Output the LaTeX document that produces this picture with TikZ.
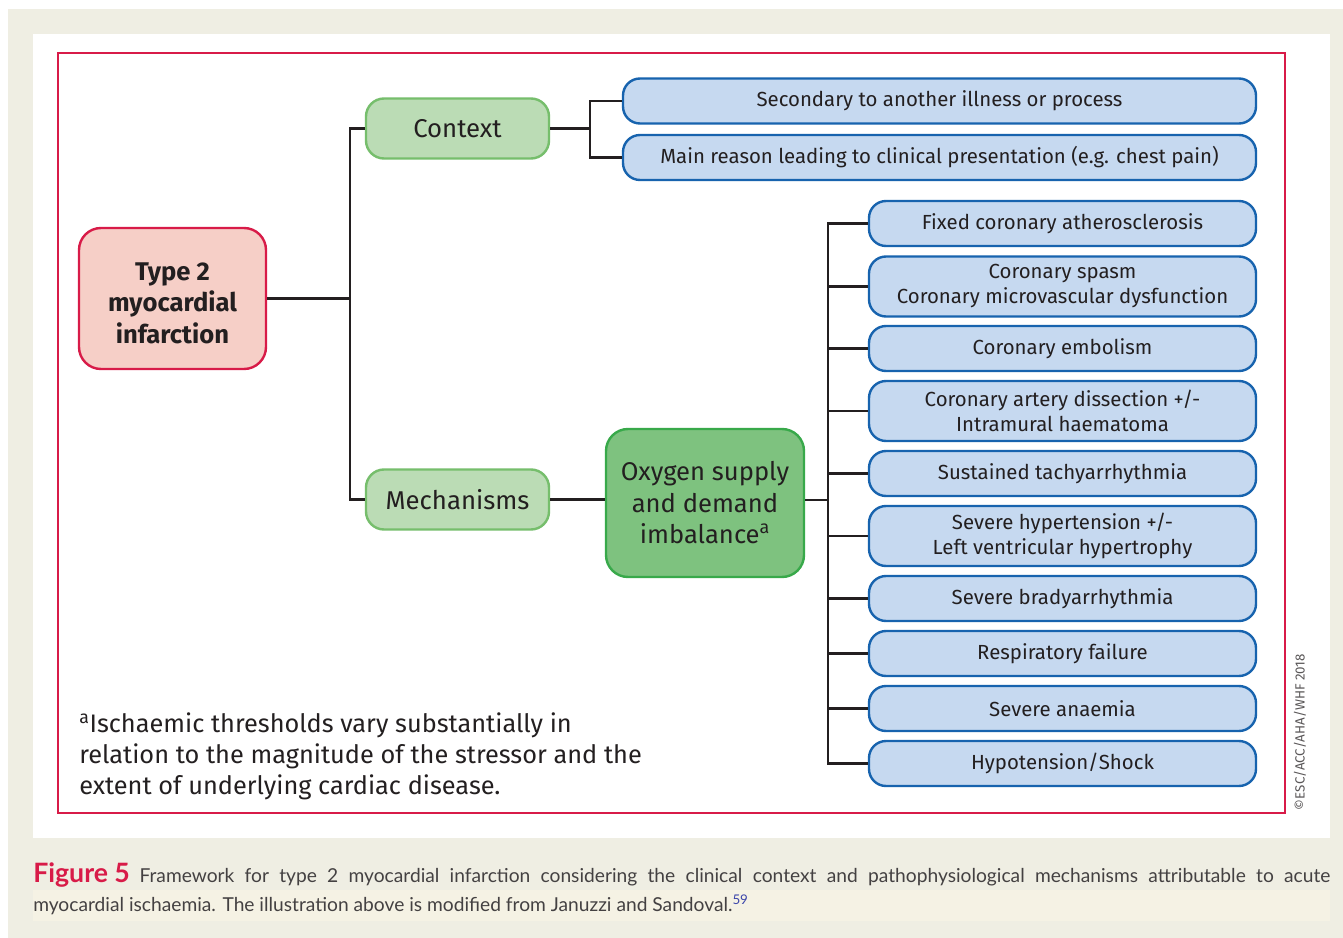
\documentclass[tikz,border=0pt]{standalone}
\usepackage{fontspec}
\setmainfont{Fira Sans}
\newfontfamily\capfont{Lato}
\usetikzlibrary{positioning}

\definecolor{pagebeige}{RGB}{239,238,227}
\definecolor{capcream}{RGB}{245,242,228}
\definecolor{framered}{RGB}{216,27,72}
\definecolor{typefill}{RGB}{246,207,199}
\definecolor{ctxfill}{RGB}{187,220,181}
\definecolor{ctxedge}{RGB}{118,190,108}
\definecolor{oxyfill}{RGB}{126,194,127}
\definecolor{oxyedge}{RGB}{56,169,74}
\definecolor{itemfill}{RGB}{198,217,240}
\definecolor{itemedge}{RGB}{23,99,174}
\definecolor{inkdark}{RGB}{35,31,32}
\definecolor{refblue}{RGB}{60,70,170}

\newlength\pxu
\setlength\pxu{0.75pt}

\begin{document}
\begin{tikzpicture}[x=0.75pt,y=0.75pt,yscale=-1,xscale=1,
  link/.style={draw=inkdark, line width=2.6\pxu},
  itembox/.style={draw=itemedge, fill=itemfill, line width=2.4\pxu, rounded corners=17\pxu,
    inner sep=0pt, align=center, text=inkdark, font=\fontsize{15.3}{18.75}\selectfont},
  headbox/.style={draw=ctxedge, fill=ctxfill, line width=2.4\pxu, rounded corners=18\pxu,
    minimum width=183\pxu, minimum height=60\pxu, inner sep=0pt, text=inkdark,
    font=\fontsize{19.3}{23}\selectfont}]
\useasboundingbox (0,0) rectangle (1343,938);

% page, panel and frame
\fill[pagebeige] (8,9) rectangle (1343,938);
\fill[white] (33,34) rectangle (1330,838);
\fill[capcream] (33,890) rectangle (1330,921);
\draw[framered, line width=2.6\pxu] (58,53) rectangle (1285,813);

% main boxes
\node[draw=framered, fill=typefill, line width=2.4\pxu, rounded corners=22\pxu,
  minimum width=187\pxu, minimum height=141\pxu, inner sep=0pt, align=center, text=inkdark,
  font=\fontsize{19.2}{23.6}\selectfont\bfseries] (t2) at (172.5,298.5)
  {\rule{0pt}{20pt}Type 2\\myocardial\\infarction};
\node[headbox] (ctx) at (457.5,128.5) {Context};
\node[headbox] (mech) at (457.5,499.5) {Mechanisms};
\node[draw=oxyedge, fill=oxyfill, line width=2.4\pxu, rounded corners=22\pxu,
  minimum width=198\pxu, minimum height=148\pxu, inner sep=0pt, align=center, text=inkdark,
  font=\fontsize{19.2}{23.6}\selectfont] (oxy) at (705,503)
  {Oxygen supply\\and demand\\imbalance\textsuperscript{a}};

% context items
\node[itembox, minimum width=633\pxu, minimum height=45\pxu] (c1) at (939.5,101)
  {Secondary to another illness or process};
\node[itembox, minimum width=633\pxu, minimum height=45\pxu] (c2) at (939.5,157.5)
  {Main reason leading to clinical presentation (e.g. chest pain)};

% mechanism items
\foreach \n/\y/\h/\txt in {
  1/223.5/45/{Fixed coronary atherosclerosis},
  2/286.5/60/{Coronary spasm\\Coronary microvascular dysfunction},
  3/348.5/45/{Coronary embolism},
  4/411/60/{Coronary artery dissection +/-\\Intramural haematoma},
  5/473.5/45/{Sustained tachyarrhythmia},
  6/536/60/{Severe hypertension +/-\\Left ventricular hypertrophy},
  7/598.5/45/{Severe bradyarrhythmia},
  8/653.5/45/{Respiratory failure},
  9/708.5/45/{Severe anaemia},
  10/763.5/45/{Hypotension/Shock}}
  \node[itembox, minimum width=387\pxu, minimum height=\h\pxu] (m\n) at (1062.5,\y) {\txt};

% connectors
\coordinate (busA) at (350,298.5);
\coordinate (busB) at (590,128.5);
\coordinate (busC) at (828,500);
\draw[link] (t2.east) -- (busA);
\draw[link] (busA) |- (ctx.west);
\draw[link] (busA) |- (mech.west);
\draw[link] (ctx.east) -- (busB);
\draw[link] (busB) |- (c1.west);
\draw[link] (busB) |- (c2.west);
\draw[link] (mech.east) -- (mech.east -| oxy.west);
\draw[link] (oxy.east |- busC) -- (busC);
\foreach \n in {1,...,10}
  \draw[link] (busC) |- (m\n.west);

% footnote
\node[anchor=north west, align=left, inner sep=0pt, text=inkdark,
  font=\fontsize{19}{23.6}\selectfont] (note) at (79,712)
  {\textsuperscript{a}Ischaemic thresholds vary substantially in\\
   relation to the magnitude of the stressor and the\\
   extent of underlying cardiac disease.};

% copyright
\node[rotate=90, inner sep=0pt, text=inkdark!75, font=\fontsize{10}{12}\selectfont] (copy) at (1300,732)
  {©ESC/ACC/AHA/WHF 2018};

% caption
\node[anchor=north west, text width=1297\pxu, align=justify, inner sep=0pt, text=inkdark!85,
  font=\capfont\fontsize{14.4}{21.75}\selectfont] (cap) at (33,862)
  {\mbox{\fontsize{20}{21.75}\selectfont\bfseries\color{framered}Figure 5}\hspace{0.5em}Framework for type 2 myocardial infarction considering the clinical context and pathophysiological mechanisms attributable to acute\linebreak
   myocardial ischaemia. The illustration above is modified from Januzzi and Sandoval.\textsuperscript{\color{refblue}59}};
\end{tikzpicture}
\end{document}
